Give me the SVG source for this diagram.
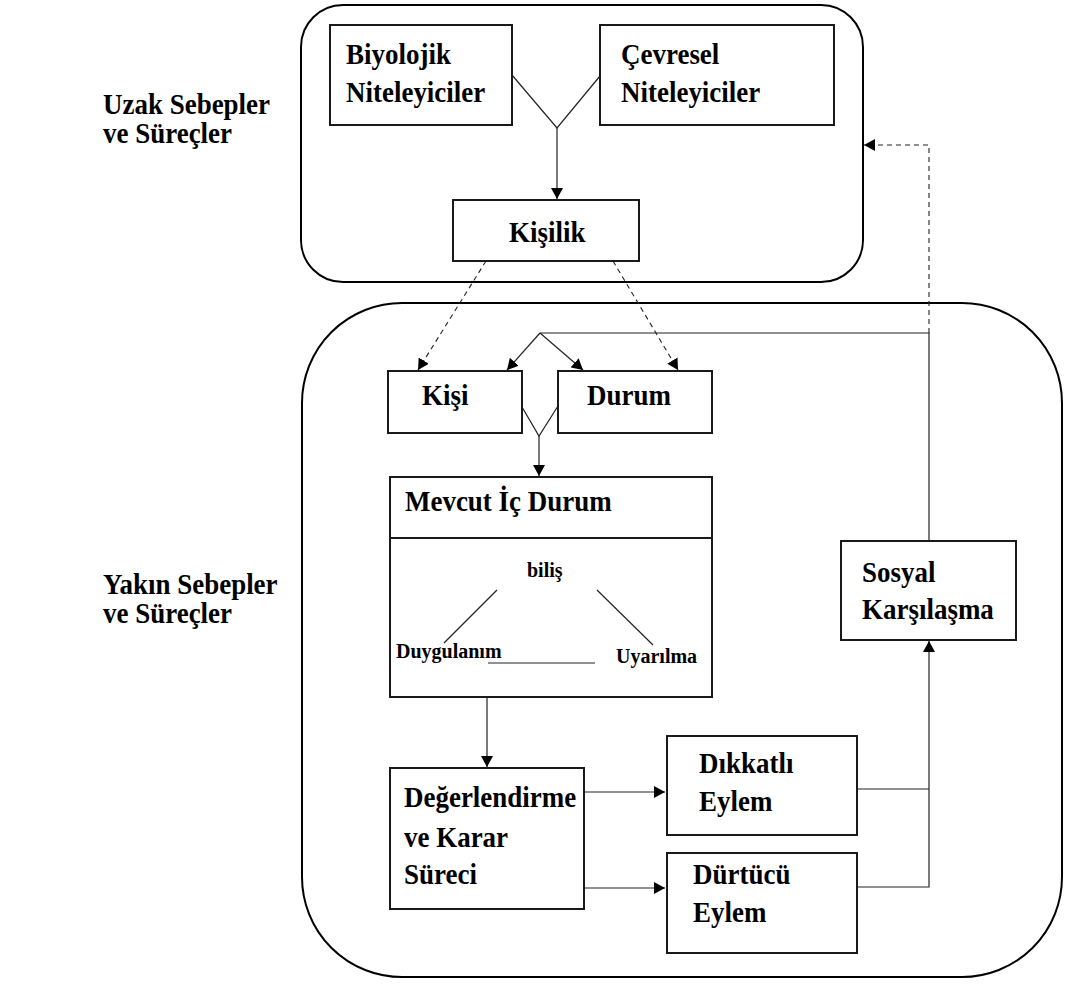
<svg xmlns="http://www.w3.org/2000/svg" width="1065" height="985" viewBox="0 0 1065 985">
<style>
  .container { fill: none; stroke: #000; stroke-width: 2; }
  .box { fill: #fff; stroke: #1a1a1a; stroke-width: 2; }
  .lbl { font-family: "Liberation Serif", "Times New Roman", serif; font-weight: bold; font-size: 29px; fill: #000; }
  .small { font-family: "Liberation Serif", "Times New Roman", serif; font-weight: bold; font-size: 20px; fill: #000; }
  .conn { fill: none; stroke: #222; stroke-width: 1.2; }
  .dash { fill: none; stroke: #222; stroke-width: 1.1; stroke-dasharray: 5 4; }
  .inner { fill: none; stroke: #222; stroke-width: 1.2; }
</style>
<defs>
  <marker id="arr" markerUnits="userSpaceOnUse" markerWidth="12" markerHeight="12" refX="11" refY="6" orient="auto">
    <path d="M0,0 L11,6 L0,12 z" fill="#000"/>
  </marker>
</defs>
<rect width="1065" height="985" fill="#fff"/>

<g id="containers">
  <rect id="uzak-container" class="container" x="301" y="5" width="562" height="277" rx="42" ry="42"/>
  <rect id="yakin-container" class="container" x="302" y="303" width="760" height="674" rx="100" ry="100"/>
</g>

<g id="side-labels">
  <text class="lbl" transform="translate(103 114) scale(0.93 1)">Uzak Sebepler</text>
  <text class="lbl" transform="translate(103 143) scale(0.93 1)">ve Süreçler</text>
  <text class="lbl" transform="translate(103 594) scale(0.93 1)">Yakın Sebepler</text>
  <text class="lbl" transform="translate(103 623) scale(0.93 1)">ve Süreçler</text>
</g>

<g id="connectors">
  <path class="conn" d="M512,75 L557,128 L600,76"/>
  <path class="conn" d="M557,128 L557,199" marker-end="url(#arr)"/>
  <path class="dash" d="M486,261 L418,370" marker-end="url(#arr)"/>
  <path class="dash" d="M613,261 L678,370" marker-end="url(#arr)"/>
  <path class="conn" d="M540,333 L929,333 L929,541"/>
  <path class="conn" d="M540,333 L507,370" marker-end="url(#arr)"/>
  <path class="conn" d="M540,333 L583,370" marker-end="url(#arr)"/>
  <path class="dash" d="M929,333 L929,145 L864,145" marker-end="url(#arr)"/>
  <path class="conn" d="M522,407 L539,436 L558,406"/>
  <path class="conn" d="M539,436 L539,476" marker-end="url(#arr)"/>
  <path class="conn" d="M487,697 L487,767" marker-end="url(#arr)"/>
  <path class="conn" d="M584,792 L665,792" marker-end="url(#arr)"/>
  <path class="conn" d="M584,888 L665,888" marker-end="url(#arr)"/>
  <path class="conn" d="M857,789 L929,789"/>
  <path class="conn" d="M857,887 L929,887 L929,641" marker-end="url(#arr)"/>
</g>

<g id="biyolojik">
  <rect class="box" x="330" y="25" width="182" height="100"/>
  <text class="lbl" transform="translate(346 64) scale(0.93 1)">Biyolojik</text>
  <text class="lbl" transform="translate(346 102) scale(0.93 1)">Niteleyiciler</text>
</g>

<g id="cevresel">
  <rect class="box" x="600" y="25" width="234" height="100"/>
  <text class="lbl" transform="translate(621 64) scale(0.93 1)">Çevresel</text>
  <text class="lbl" transform="translate(621 102) scale(0.93 1)">Niteleyiciler</text>
</g>

<g id="kisilik">
  <rect class="box" x="453" y="200" width="186" height="61"/>
  <text class="lbl" transform="translate(509 242) scale(0.93 1)">Kişilik</text>
</g>

<g id="kisi">
  <rect class="box" x="388" y="371" width="134" height="62"/>
  <text class="lbl" transform="translate(422 405) scale(0.93 1)">Kişi</text>
</g>

<g id="durum">
  <rect class="box" x="558" y="371" width="154" height="62"/>
  <text class="lbl" transform="translate(587 405) scale(0.93 1)">Durum</text>
</g>

<g id="mevcut-ic-durum">
  <rect class="box" x="390" y="477" width="322" height="61"/>
  <text class="lbl" transform="translate(405 511) scale(0.93 1)">Mevcut İç Durum</text>
  <rect class="box" x="390" y="538" width="322" height="159"/>
  <text class="small" x="527" y="577">biliş</text>
  <text class="small" x="396" y="658">Duygulanım</text>
  <text class="small" x="616" y="663">Uyarılma</text>
  <line class="inner" x1="497" y1="590" x2="444" y2="643"/>
  <line class="inner" x1="597" y1="590" x2="653" y2="645"/>
  <line class="inner" x1="488" y1="663" x2="595" y2="663"/>
</g>

<g id="degerlendirme">
  <rect class="box" x="390" y="768" width="194" height="141"/>
  <text class="lbl" transform="translate(404 807) scale(0.93 1)">Değerlendirme</text>
  <text class="lbl" transform="translate(404 847) scale(0.93 1)">ve Karar</text>
  <text class="lbl" transform="translate(404 884) scale(0.93 1)">Süreci</text>
</g>

<g id="dikkatli-eylem">
  <rect class="box" x="667" y="736" width="190" height="99"/>
  <text class="lbl" transform="translate(699 773) scale(0.93 1)">Dıkkatlı</text>
  <text class="lbl" transform="translate(699 811) scale(0.93 1)">Eylem</text>
</g>

<g id="durtucu-eylem">
  <rect class="box" x="667" y="853" width="190" height="100"/>
  <text class="lbl" transform="translate(693 884) scale(0.93 1)">Dürtücü</text>
  <text class="lbl" transform="translate(693 922) scale(0.93 1)">Eylem</text>
</g>

<g id="sosyal-karsilasma">
  <rect class="box" x="841" y="541" width="175" height="99"/>
  <text class="lbl" transform="translate(862 582) scale(0.93 1)">Sosyal</text>
  <text class="lbl" transform="translate(862 619) scale(0.93 1)">Karşılaşma</text>
</g>
</svg>
